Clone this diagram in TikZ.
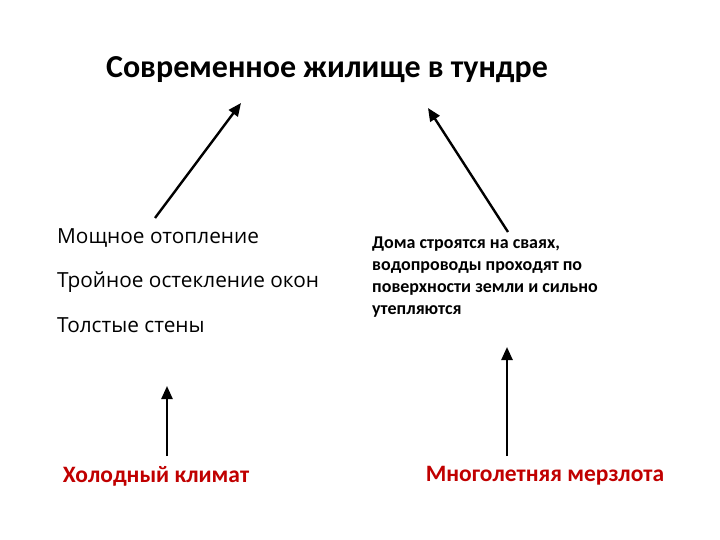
\documentclass[tikz,border=0pt]{standalone}
\usepackage{fontspec}
\setmainfont{Carlito}
\newfontfamily\osans{Open Sans}
\usetikzlibrary{arrows.meta}
\definecolor{dred}{RGB}{192,0,0}
\begin{document}
\begin{tikzpicture}[x=1pt,y=-1pt,
  arr/.style={line width=2.4pt,-{Triangle[length=13pt,width=11pt]}},
  lst/.style={anchor=west,font=\osans\fontsize{20.8}{24}\selectfont,inner sep=0},
  red/.style={font=\bfseries\fontsize{23.5}{26}\selectfont,text=dred,inner sep=0}]
\useasboundingbox (0,0) rectangle (720,540);
\node[font=\bfseries\fontsize{32}{36}\selectfont,inner sep=0] (t) at (327,70) {Современное жилище в тундре};
\node[lst] (l1) at (57,238) {Мощное отопление};
\node[lst] (l2) at (57,282) {Тройное остекление окон};
\node[lst] (l3) at (57,325) {Толстые стены};
\node[anchor=north west,align=left,inner sep=0,font=\bfseries\fontsize{18}{21.8}\selectfont] (r) at (372,237) {Дома строятся на сваях,\\водопроводы проходят по\\поверхности земли и сильно\\утепляются};
\node[red] (c1) at (156,476) {Холодный климат};
\node[red] (c2) at (545,476) {Многолетняя мерзлота};
\coordinate (a1s) at (155,218); \coordinate (a1e) at (241,103);
\coordinate (a2s) at (508,232); \coordinate (a2e) at (428,108);
\coordinate (a3s) at (167,456); \coordinate (a3e) at (167,386);
\coordinate (a4s) at (507,456); \coordinate (a4e) at (507,347);
\draw[arr] (a1s) -- (a1e);
\draw[arr] (a2s) -- (a2e);
\draw[arr] (a3s) -- (a3e);
\draw[arr] (a4s) -- (a4e);
\end{tikzpicture}
\end{document}
